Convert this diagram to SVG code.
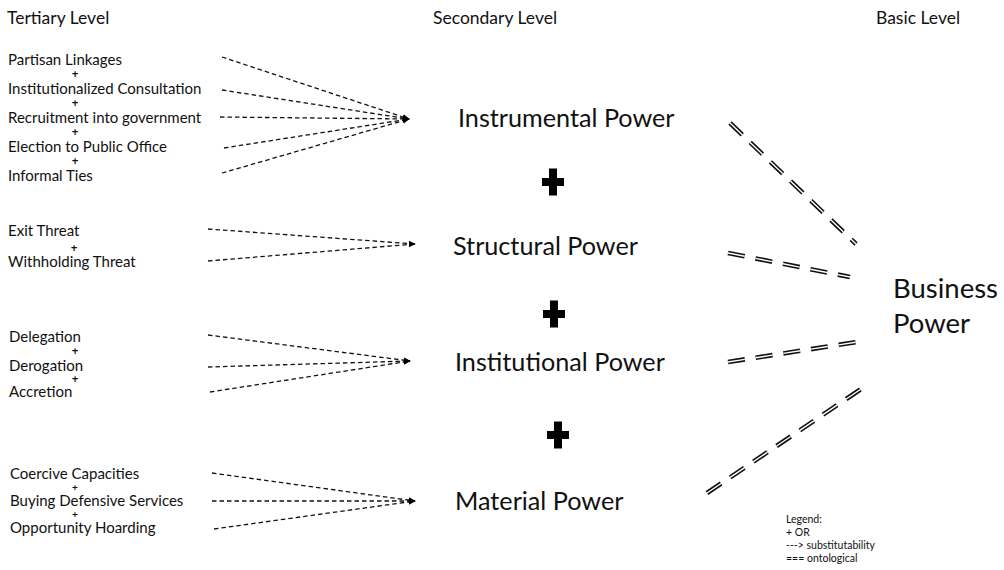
<svg xmlns="http://www.w3.org/2000/svg" width="1004" height="570" viewBox="0 0 1004 570">
<defs>
<style>
text{font-family:Lato,"Open Sans","Liberation Sans",sans-serif;fill:#111}
.hd{font-size:17.5px}
.lb{font-size:15px}
.pl{font-size:11.5px;text-anchor:middle;font-weight:bold}
.ps{font-size:10px}
.sec{font-size:25.2px}
.bas{font-size:27.5px}
.lg{font-size:10.5px}
.dl{stroke:#111;stroke-width:1.3;stroke-dasharray:4.5 3;fill:none;marker-end:url(#ah)}
.ob{stroke:#111;stroke-width:4.6;stroke-dasharray:17 11;fill:none}
.ow{stroke:#fff;stroke-width:1.4;stroke-dasharray:17 11;fill:none}
.cross{fill:#000}
</style>
<marker id="ah" viewBox="0 0 10 10" refX="9" refY="5" markerWidth="7" markerHeight="7" markerUnits="userSpaceOnUse" orient="auto">
<path d="M0,1 L10,5 L0,9 z" fill="#000"/>
</marker>
<path id="plus" d="M-4,-13.5 H4 V-4 H11 V4 H4 V13.5 H-4 V4 H-11 V-4 H-4 Z"/>
</defs>
<rect width="1004" height="570" fill="#fff"/>

<g id="headers">
<text class="hd" x="7" y="24">Tertiary Level</text>
<text class="hd" x="433" y="24">Secondary Level</text>
<text class="hd" x="876" y="24">Basic Level</text>
</g>

<g id="tertiary-instrumental">
<text class="lb" x="8" y="65">Partisan Linkages</text>
<text class="pl" x="75" y="78">+</text>
<text class="lb" x="8" y="94">Institutionalized Consultation</text>
<text class="pl" x="75" y="107">+</text>
<text class="lb" x="8" y="123">Recruitment into government</text>
<text class="pl" x="75" y="136">+</text>
<text class="lb" x="8" y="152">Election to Public Office</text>
<text class="pl" x="75" y="165">+</text>
<text class="lb" x="8" y="181">Informal Ties</text>
</g>

<g id="tertiary-structural">
<text class="lb" x="8" y="236">Exit Threat</text>
<text class="pl" x="74" y="252">+</text>
<text class="lb" x="8" y="267">Withholding Threat</text>
</g>

<g id="tertiary-institutional">
<text class="lb" x="9" y="342">Delegation</text>
<text class="pl" x="75" y="355">+</text>
<text class="lb" x="9" y="371">Derogation</text>
<text class="pl" x="75" y="383">+</text>
<text class="lb" x="9" y="397">Accretion</text>
</g>

<g id="tertiary-material">
<text class="lb" x="10" y="479">Coercive Capacities</text>
<text class="pl ps" x="75" y="491">+</text>
<text class="lb" x="10" y="506">Buying Defensive Services</text>
<text class="pl ps" x="75" y="518">+</text>
<text class="lb" x="10" y="533">Opportunity Hoarding</text>
</g>

<g id="secondary">
<text class="sec" x="458" y="127">Instrumental Power</text>
<use href="#plus" class="cross" x="553" y="182"/>
<text class="sec" x="453" y="255">Structural Power</text>
<use href="#plus" class="cross" x="554" y="314"/>
<text class="sec" x="455" y="371">Institutional Power</text>
<use href="#plus" class="cross" x="558" y="435"/>
<text class="sec" x="455" y="510">Material Power</text>
</g>

<g id="basic">
<text class="bas" x="893" y="298">Business</text>
<text class="bas" x="893" y="333">Power</text>
</g>

<g id="connectors">
<line class="dl" x1="222" y1="57" x2="409" y2="119"/>
<line class="dl" x1="222" y1="90" x2="409" y2="119"/>
<line class="dl" x1="220" y1="117" x2="409" y2="119"/>
<line class="dl" x1="224" y1="148" x2="409" y2="119"/>
<line class="dl" x1="222" y1="173" x2="409" y2="119"/>

<line class="dl" x1="208" y1="229" x2="415" y2="244"/>
<line class="dl" x1="208" y1="261" x2="415" y2="244"/>

<line class="dl" x1="208" y1="335" x2="410" y2="361"/>
<line class="dl" x1="208" y1="367" x2="410" y2="361"/>
<line class="dl" x1="210" y1="392" x2="410" y2="361"/>

<line class="dl" x1="212" y1="473" x2="415" y2="501"/>
<line class="dl" x1="212" y1="501" x2="415" y2="501"/>
<line class="dl" x1="214" y1="529" x2="415" y2="501"/>

<path class="ob" d="M730,123 L856,244"/>
<path class="ow" d="M730,123 L856,244"/>
<path class="ob" d="M728,253 L850,277"/>
<path class="ow" d="M728,253 L850,277"/>
<path class="ob" d="M728,362 L857,342"/>
<path class="ow" d="M728,362 L857,342"/>
<path class="ob" d="M707,493 L864,387"/>
<path class="ow" d="M707,493 L864,387"/>
</g>

<g id="legend">
<text class="lg" x="786" y="523">Legend:</text>
<text class="lg" x="786" y="536">+ OR</text>
<text class="lg" x="786" y="549">---&gt; substitutability</text>
<text class="lg" x="786" y="562">=== ontological</text>
</g>
</svg>
